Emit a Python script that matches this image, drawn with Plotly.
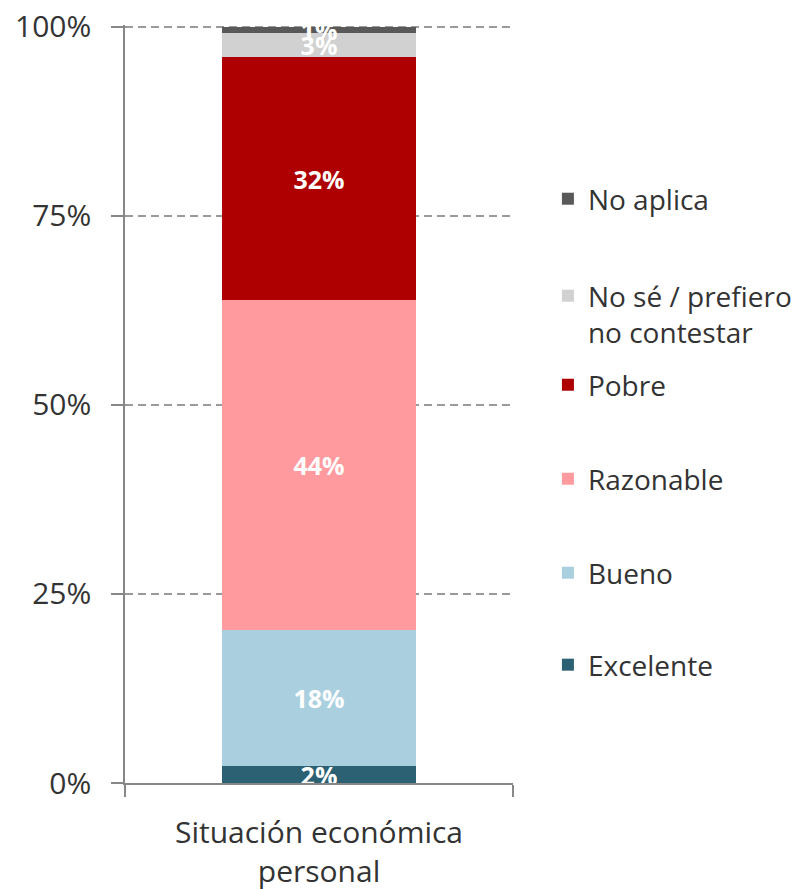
import plotly.graph_objects as go

# categories and values (% of respondents)
category = ["Situación económica<br>personal"]
series = ["Excelente", "Bueno", "Razonable", "Pobre", "No sé / prefiero<br>no contestar", "No aplica"]
values = [2.2, 18.0, 43.6, 32.2, 3.1, 0.9]
colors = ["#2b6172", "#aad0df", "#ff9b9e", "#ae0000", "#d0d1d0", "#595959"]
y_ticks = [0, 25, 50, 75, 100]
y_tick_labels = ["0%", "25%", "50%", "75%", "100%"]

FONT = "Open Sans"
TEXT_COL = "#333333"
AXIS_COL = "#878787"

# each legend entry sits in its own legend box (top edge, paper y), bottom to top
legend_y = [0.1887, 0.3100, 0.4340, 0.5580, 0.6755, 0.8034]
legend_names = ["legend", "legend2", "legend3", "legend4", "legend5", "legend6"]

fig = go.Figure()
for name, v, c, lg in zip(series, values, colors, legend_names):
    fig.add_trace(go.Bar(
        x=category,
        y=[v],
        name=name,
        marker=dict(color=c, line=dict(width=0)),
        width=0.5,
        text=[f"{v:.0f}%"],
        textposition="inside",
        insidetextanchor="middle",
        textfont=dict(family=FONT, size=25, color="white", weight="bold"),
        legend=lg,
        showlegend=True,
        hoverinfo="skip",
    ))

layout_legends = {}
for lg, ly in zip(legend_names, legend_y):
    layout_legends[lg] = dict(
        x=1.090, xanchor="left",
        y=ly, yanchor="top",
        valign="top",
        font=dict(family=FONT, size=28, color=TEXT_COL),
        bgcolor="rgba(0,0,0,0)",
        borderwidth=0,
    )

fig.update_layout(
    barmode="stack",
    width=795, height=889,
    margin=dict(l=125, r=282, t=25, b=106, autoexpand=False),
    paper_bgcolor="white",
    plot_bgcolor="white",
    showlegend=True,
    uniformtext=dict(minsize=25, mode="show"),
    font=dict(family=FONT, color=TEXT_COL),
    **layout_legends,
)

fig.update_yaxes(
    range=[0, 100.2],
    tickvals=y_ticks,
    ticktext=y_tick_labels,
    tickfont=dict(family=FONT, size=30, color=TEXT_COL),
    ticks="outside", ticklen=12, tickcolor=AXIS_COL, tickwidth=1.5,
    showline=True, linecolor=AXIS_COL, linewidth=1.5,
    showgrid=True, gridcolor="#9a9a9a", gridwidth=1.5, griddash="8px,5px",
    zeroline=False,
    ticklabelstandoff=14,
)
fig.update_xaxes(
    range=[-0.5, 0.5],
    tickfont=dict(family=FONT, size=30, color=TEXT_COL),
    ticks="outside", ticklen=12, tickcolor=AXIS_COL, tickwidth=1.5,
    tickson="boundaries",
    showline=True, linecolor=AXIS_COL, linewidth=1.5,
    showgrid=False,
    ticklabelstandoff=22,
)

# drop the browser's default page margin so the figure fills the window
fig.write_html(
    "out.html",
    config={"displayModeBar": False},
    post_script="document.body.style.margin = '0px';",
)
